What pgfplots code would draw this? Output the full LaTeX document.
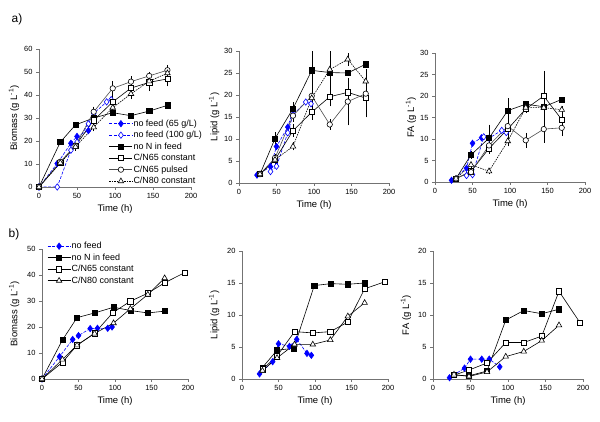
\documentclass[border=0pt]{standalone}
\usepackage{fontspec}
\setmainfont{Liberation Sans}
\usepackage{pgfplots}
\pgfplotsset{compat=1.18}

\pgfplotsset{
  panel/.style={
    scale only axis, anchor=south west,
    axis x line*=bottom, axis y line*=left,
    axis line style={-, black!55, line width=0.6bp},
    tick style={black!55, line width=0.6bp},
    tick align=outside, major tick length=3bp,
    xmin=0, xmax=200, xtick={0,50,100,150,200},
    ymin=0,
    ticklabel style={font=\fontsize{7.5}{8}\selectfont},
    /pgf/number format/assume math mode=true,
    label style={font=\fontsize{9.5}{11}\selectfont},
    xlabel={Time (h)},
    xlabel style={at={(axis description cs:0.5,0)}, anchor=center, yshift=-22bp},
    legend cell align=left,
    legend style={draw=none, fill=none, font=\fontsize{9}{10}\selectfont,
      inner sep=0pt, row sep=1.9bp, anchor=north west,
      nodes={inner sep=0.8bp, text height=6.5bp, text depth=1.5bp}},
    legend image code/.code={\draw[mark repeat=2,mark phase=2,##1]
      plot coordinates {(0bp,0bp) (11.5bp,0bp) (23bp,0bp)};},
  },
  nf65/.style={blue, line width=0.6bp, dash pattern=on 3bp off 1.5bp,
    mark=diamond*, mark size=3.2bp, mark options={solid, fill=blue}},
  nf100/.style={blue, line width=0.6bp, dash pattern=on 3bp off 1.5bp,
    mark=diamond*, mark size=3.2bp, mark options={solid, fill=white}},
  noN/.style={black, line width=0.6bp, mark=square*, mark size=2.6bp,
    mark options={solid, fill=black}},
  c65/.style={black, line width=0.6bp, mark=square*, mark size=2.6bp,
    mark options={solid, fill=white}},
  c65p/.style={black!70, line width=0.6bp, mark=*, mark size=2.7bp,
    mark options={solid, fill=white, draw=black}},
  c80/.style={black, line width=0.6bp, dash pattern=on 1.5bp off 1bp,
    mark=triangle*, mark size=3.2bp, mark options={solid, fill=white}},
  c80s/.style={black, line width=0.6bp,
    mark=triangle*, mark size=3.2bp, mark options={solid, fill=white}},
  eb/.style={error bars/.cd, y dir=both, y explicit,
    error bar style={black, solid, line width=0.5bp},
    error mark options={black, solid, mark size=1.8bp, line width=0.5bp}},
}

\begin{document}
\begin{tikzpicture}
\useasboundingbox (0,0) rectangle (600bp,422bp);

\node[font=\fontsize{12}{14}\selectfont] at (17bp,403bp) {a)};
\node[font=\fontsize{12}{14}\selectfont] at (14bp,188bp) {b)};

% ---------- a) Biomass
\begin{axis}[panel, at={(39bp,235bp)}, width=152bp, height=138bp,
  ymax=60, ytick={0,10,...,60},
  ylabel={Biomass (g L\textsuperscript{-1})},
  ylabel style={at={(axis description cs:-0.165,0.5)}, anchor=center},
  legend style={at={(axis description cs:0.46,0.495)}}]
\addplot[nf65] coordinates {(0,0)(24,10.2)(42,19)(50,22)(65,24.5)};
\addlegendentry{no feed (65 g/L)}
\addplot[nf100] coordinates {(0,0)(24,0)(42,16)(50,19.5)(65,27.5)(72,32)(89,37)(95,38)};
\addlegendentry{no feed (100 g/L)}
\addplot[noN] coordinates {(0,0)(28,19.5)(48,27)(72,30)(97,32.3)(121,31)(145,33)(169,35.5)};
\addlegendentry{no N in feed}
\addplot[c65, eb] coordinates {(0,0)+-(0,0) (28,10.5)+-(0,0.5) (48,18)+-(0,1) (72,29)+-(0,1.5)
  (97,37)+-(0,2.5) (121,43)+-(0,3) (145,45.5)+-(0,3) (169,47)+-(0,2.5)};
\addlegendentry{C/N65 constant}
\addplot[c65p, eb] coordinates {(0,0)+-(0,0) (28,11)+-(0,0.5) (48,18)+-(0,1) (72,32.7)+-(0,1.5)
  (97,42.9)+-(0,2.5) (121,45.8)+-(0,1.5) (145,48.3)+-(0,1) (169,50.8)+-(0,1.5)};
\addlegendentry{C/N65 pulsed}
\addplot[c80, eb] coordinates {(0,0)+-(0,0) (28,10.5)+-(0,0.5) (48,17.5)+-(0,1) (72,26)+-(0,1)
  (97,34.5)+-(0,2) (121,40.5)+-(0,1.5) (145,46)+-(0,2) (169,49.5)+-(0,1.5)};
\addlegendentry{C/N80 constant}
\end{axis}

% ---------- a) Lipid
\begin{axis}[panel, at={(239bp,239bp)}, width=150bp, height=132bp,
  ymax=30, ytick={0,5,...,30},
  ylabel={Lipid (g L\textsuperscript{-1})},
  ylabel style={at={(axis description cs:-0.165,0.5)}, anchor=center}]
\addplot[nf65] coordinates {(24,1.8)(42,3.7)(50,8.3)(65,12.7)(72,16.5)};
\addplot[nf100] coordinates {(42,2.6)(50,3.8)(65,11.4)(72,15.5)(89,18.4)(96,18)};
\addplot[noN, eb] coordinates {(28,2)+-(0,0) (48,10.1)+-(0,1) (72,16.9)+-(0,1) (97,25.6)+-(0,5.5)
  (121,25.1)+-(0,0) (145,25)+-(0,0) (169,27)+-(0,0)};
\addplot[c65, eb] coordinates {(28,2)+-(0,0) (48,5.3)+-(0,0.5) (72,11.9)+-(0,1) (97,16.1)+-(0,1.3)
  (121,19.6)+-(0,1.5) (145,20.6)+-(0,2) (169,19.3)+-(0,4)};
\addplot[c65p, eb] coordinates {(28,2)+-(0,0) (48,5.7)+-(0,0.5) (72,15.3)+-(0,1) (97,19.8)+-(0,1)
  (121,13.3)+-(0,0.8) (145,18.5)+-(0,5) (169,20.3)+-(0,1.5)};
\addplot[c80, eb] coordinates {(28,2)+-(0,0) (48,5.3)+-(0,0.5) (72,8.3)+-(0,0.5) (97,19.3)+-(0,1)
  (121,25.8)+-(0,8) (145,28.1)+-(0,1) (169,23.1)+-(0,2.3)};
\end{axis}

% ---------- a) FA
\begin{axis}[panel, at={(435bp,240bp)}, width=150bp, height=129bp,
  ymax=30, ytick={0,5,...,30},
  ylabel={FA (g L\textsuperscript{-1})},
  ylabel style={at={(axis description cs:-0.16,0.5)}, anchor=center}]
\addplot[nf65] coordinates {(22,0.4)(42,3.2)(50,9)(62,10.3)};
\addplot[nf100] coordinates {(42,1.5)(50,1.7)(65,10.5)(72,10.2)(89,12)(95,11.5)};
\addplot[noN, eb] coordinates {(28,0.8)+-(0,0) (48,6.3)+-(0,0.5) (72,10.2)+-(0,2.7) (97,16.6)+-(0,2.5)
  (121,18.1)+-(0,0) (145,17.5)+-(0,0) (169,19.2)+-(0,0)};
\addplot[c65, eb] coordinates {(28,0.8)+-(0,0) (48,2.5)+-(0,0.3) (72,7.8)+-(0,0.8) (97,12.3)+-(0,1.5)
  (121,17)+-(0,0.5) (145,20)+-(0,5.4) (169,14.5)+-(0,1)};
\addplot[c65p, eb] coordinates {(28,0.8)+-(0,0) (48,2.3)+-(0,0.3) (72,8.5)+-(0,0.8) (97,13)+-(0,1.2)
  (121,9.7)+-(0,1.3) (145,12.3)+-(0,2.8) (169,12.6)+-(0,1.5)};
\addplot[c80, eb] coordinates {(28,0.8)+-(0,0) (48,4)+-(0,0.3) (72,2.5)+-(0,0.3) (97,9.5)+-(0,0.8)
  (121,17.3)+-(0,0.5) (145,17.3)+-(0,0.5) (169,16.8)+-(0,0.5)};
\end{axis}

% ---------- b) Biomass
\begin{axis}[panel, at={(42bp,43bp)}, width=146bp, height=130bp,
  ymax=50, ytick={0,10,...,50},
  ylabel={Biomass (g L\textsuperscript{-1})},
  ylabel style={at={(axis description cs:-0.19,0.5)}, anchor=center},
  legend style={at={(axis description cs:0.035,1.06)}}]
\addplot[nf65] coordinates {(0,0)(24,8.6)(42,15.2)(50,16.7)(66,19.4)(76,19.5)(90,19.5)(96,20)};
\addlegendentry{no feed}
\addplot[noN] coordinates {(0,0)(28,15)(48,23.6)(72,25.4)(98,27.6)(122,26.3)(145,25.4)(168,26.1)};
\addlegendentry{no N in feed}
\addplot[c65] coordinates {(0,0)(28,6.4)(48,13)(72,17.6)(97,25.5)(121,29.9)(145,33)(168,37)(196,41)};
\addlegendentry{C/N65 constant}
\addplot[c80s] coordinates {(0,0)(28,7.5)(48,13)(72,17.5)(98,21.5)(121,27)(145,32.5)(168,38.8)};
\addlegendentry{C/N80 constant}
\end{axis}

% ---------- b) Lipid
\begin{axis}[panel, at={(242bp,43bp)}, width=146bp, height=128bp,
  ymax=20, ytick={0,5,...,20},
  ylabel={Lipid (g L\textsuperscript{-1})},
  ylabel style={at={(axis description cs:-0.19,0.5)}, anchor=center}]
\addplot[nf65] coordinates {(24,0.8)(42,2.7)(50,5.5)(65,5.1)(75,6.2)(89,4)(95,3.7)};
\addplot[noN] coordinates {(28,1.8)(48,4.5)(71,4.8)(99,14.6)(122,14.9)(145,14.8)(168,15)};
\addplot[c65] coordinates {(28,1.5)(48,3.6)(72,7.4)(97,7.2)(121,7.4)(145,8.9)(168,14.1)(196,15.2)};
\addplot[c80s] coordinates {(28,1.3)(48,3.3)(72,5.4)(97,5.4)(121,6.1)(145,9.8)(168,11.9)};
\end{axis}

% ---------- b) FA
\begin{axis}[panel, at={(433bp,43bp)}, width=150bp, height=128bp,
  ymax=20, ytick={0,5,...,20},
  ylabel={FA (g L\textsuperscript{-1})},
  ylabel style={at={(axis description cs:-0.18,0.5)}, anchor=center}]
\addplot[nf65] coordinates {(22,0.2)(42,1.7)(50,3.1)(65,3.1)(75,3.1)(89,1.9)};
\addplot[noN] coordinates {(28,0.6)(48,0.5)(72,1.25)(97,9.2)(121,10.7)(145,10.2)(168,10.9)};
\addplot[c65] coordinates {(28,0.6)(48,1.4)(72,2.5)(97,5.7)(121,5.7)(145,6.7)(168,13.7)(196,8.8)};
\addplot[c80s] coordinates {(28,0.7)(48,0.4)(72,1.1)(97,3.5)(121,4.3)(145,6)(168,8.4)};
\end{axis}
\end{tikzpicture}
\end{document}
